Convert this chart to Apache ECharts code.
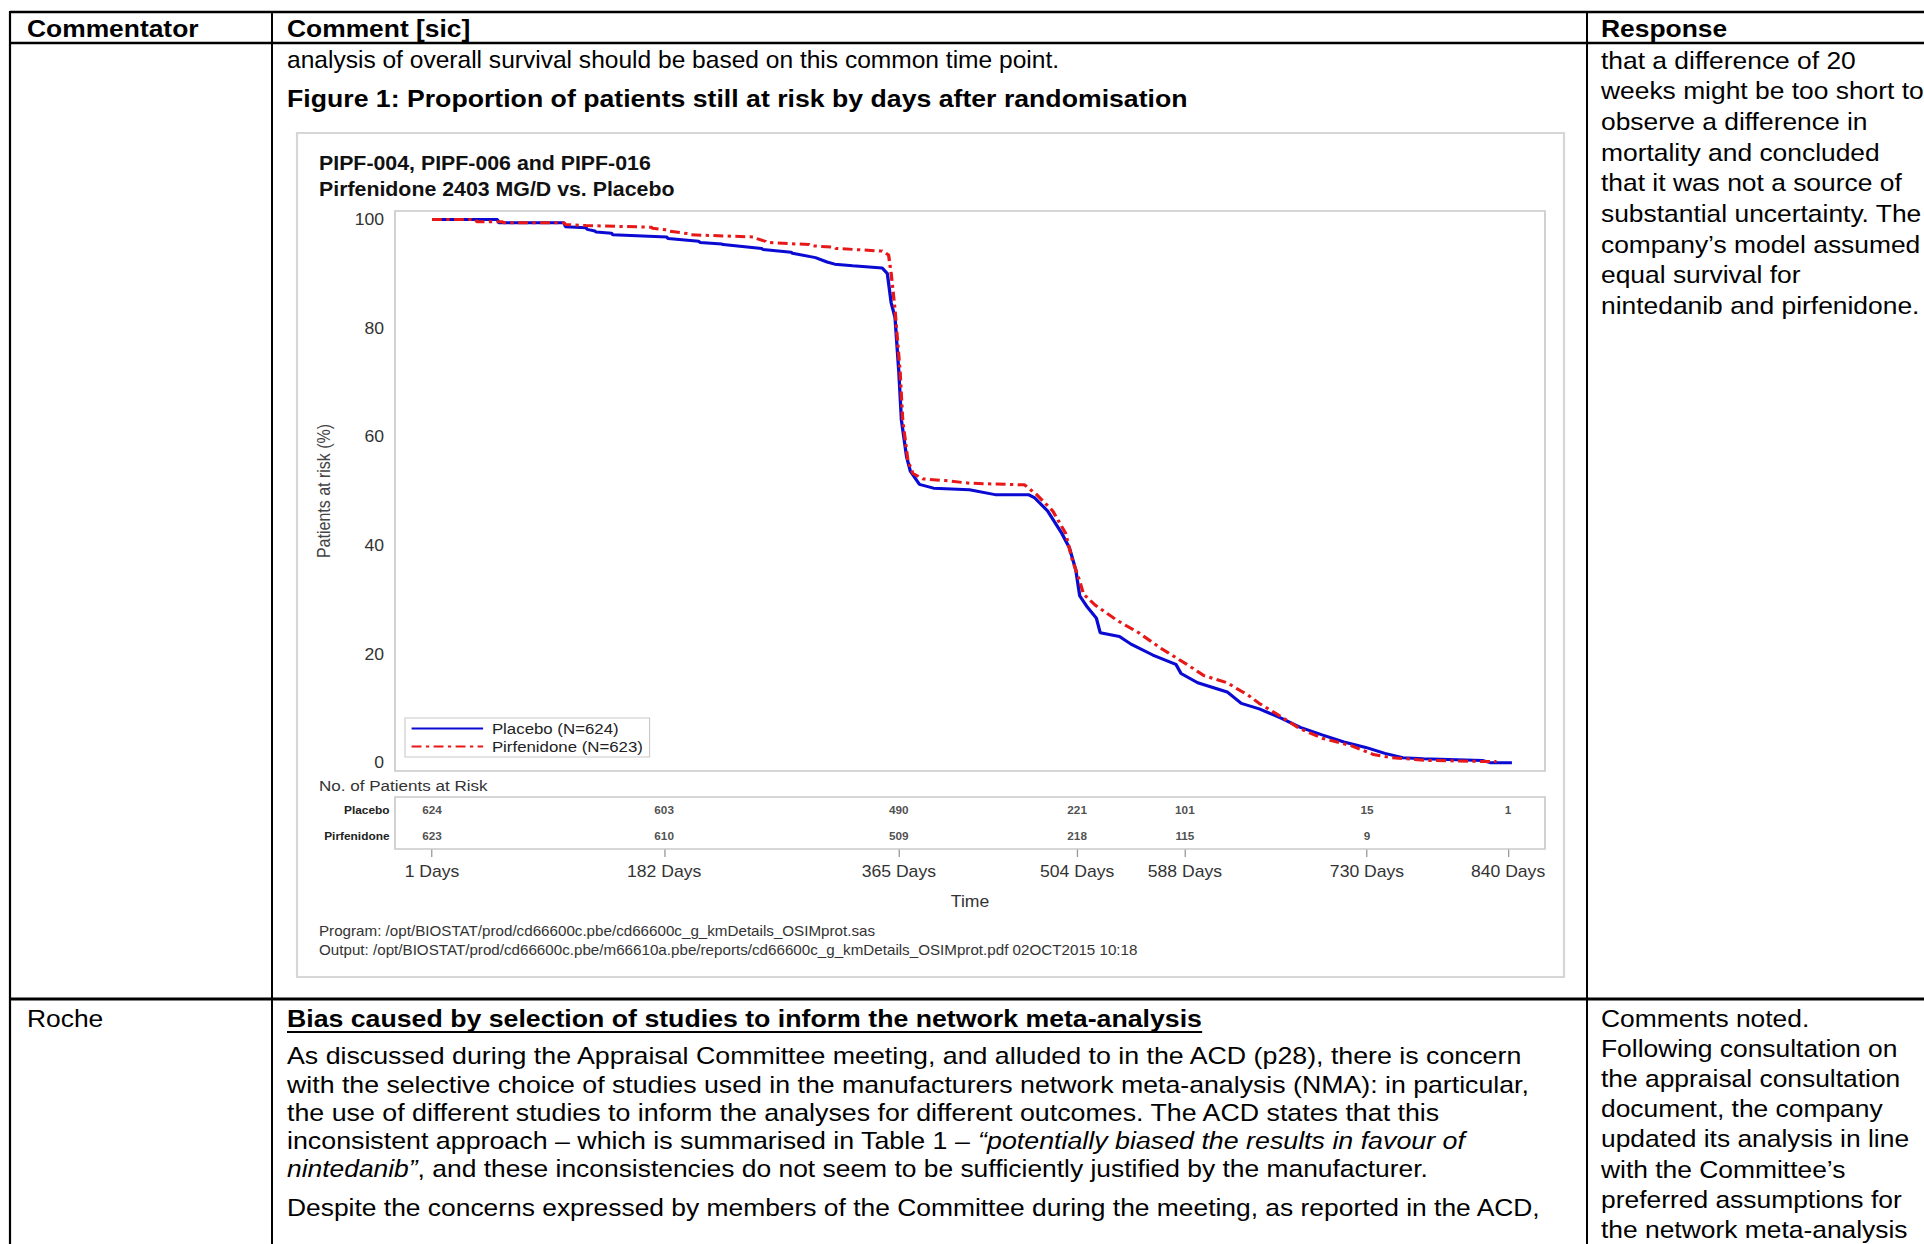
<!DOCTYPE html>
<html>
<head>
<meta charset="utf-8">
<script src="https://cdn.jsdelivr.net/npm/echarts@6/dist/echarts.min.js"></script>
<style>
html,body{margin:0;padding:0;background:#fff;overflow:hidden;width:1924px;height:1244px;}
#c{width:1750px;height:1244px;transform:scaleX(1.1);transform-origin:0 0;}
</style>
</head>
<body>
<div id="c"></div>
<script>
// ---------------- data ----------------
const tickDays = [1, 182, 365, 504, 588, 730, 840];
const riskRows = ['Pirfenidone', 'Placebo'];
const riskPlacebo = [624, 603, 490, 221, 101, 15, 1];
const riskPirf = [623, 610, 509, 218, 115, 9, null];
const yTicks = [0, 20, 40, 60, 80, 100];

const placeboDays = [1,52,53,104,105,121,122,128,129,141,142,184,185,209,210,227,228,258,259,281,282,300,309,315,329,352,356,359,362,365,367,371,374,381,392,420,440,466,471,481,492,498,503,506,512,519,522,537,546,563,581,585,598,621,632,646,663,678,695,712,729,744,758,774,820,826,843];
const placeboPct = [100,100,99.4,99.4,98.7,98.5,98.2,97.9,97.7,97.5,97.2,96.8,96.5,96.0,95.8,95.5,95.4,94.7,94.5,94.0,93.8,93.0,92.2,91.8,91.5,91.1,90.1,84.7,82.0,71.9,63.1,56.4,53.7,51.3,50.6,50.3,49.4,49.4,48.8,46.4,42.3,39.6,35.5,30.8,28.7,26.7,24.0,23.3,21.9,19.9,18.2,16.5,14.8,13.1,11.0,10.0,8.3,6.6,5.2,3.9,2.9,1.8,1.0,0.8,0.5,0.1,0.1];

const pirfDays = [1,35,36,56,57,104,105,121,172,173,184,185,201,202,252,253,261,262,295,296,315,316,352,357,359,362,366,368,372,376,384,401,420,463,472,485,495,500,506,509,518,535,552,569,592,603,621,638,646,658,678,695,718,735,749,778,826,831];
const pirfPct = [100,100,99.6,99.6,99.4,99.4,99.1,98.9,98.6,98.4,98.1,97.9,97.4,97.2,96.8,96.6,96.0,95.8,95.4,95.2,94.9,94.7,94.2,93.5,90.1,83.4,71.9,63.1,55.7,53.3,52.3,52.0,51.5,51.2,49.5,46.4,42.3,37.6,33.5,31.1,29.1,26.3,24.0,21.2,17.8,16.1,14.8,12.4,11.0,9.3,6.3,4.6,3.2,1.6,1.0,0.5,0.3,0.3];

const seriesNames = ['Placebo (N=624)', 'Pirfenidone (N=623)'];

const docHeader = ['Commentator', 'Comment [sic]', 'Response'];
const row1Comment = 'analysis of overall survival should be based on this common time point.';
const row1Figure = 'Figure 1: Proportion of patients still at risk by days after randomisation';
const row1Response = ['that a difference of 20', 'weeks might be too short to', 'observe a difference in', 'mortality and concluded', 'that it was not a source of', 'substantial uncertainty. The', 'company\u2019s model assumed', 'equal survival for', 'nintedanib and pirfenidone.'];
const chartTitle = ['PIPF-004, PIPF-006 and PIPF-016', 'Pirfenidone 2403 MG/D vs. Placebo'];
const footer = ['Program: /opt/BIOSTAT/prod/cd66600c.pbe/cd66600c_g_kmDetails_OSIMprot.sas', 'Output: /opt/BIOSTAT/prod/cd66600c.pbe/m66610a.pbe/reports/cd66600c_g_kmDetails_OSIMprot.pdf 02OCT2015 10:18'];
const row2Commentator = 'Roche';
const row2Heading = 'Bias caused by selection of studies to inform the network meta-analysis';
const row2Comment = [
  'As discussed during the Appraisal Committee meeting, and alluded to in the ACD (p28), there is concern',
  'with the selective choice of studies used in the manufacturers network meta-analysis (NMA): in particular,',
  'the use of different studies to inform the analyses for different outcomes. The ACD states that this',
  'inconsistent approach \u2013 which is summarised in Table 1 \u2013 {i|\u201cpotentially biased the results in favour of}',
  '{i|nintedanib\u201d}, and these inconsistencies do not seem to be sufficiently justified by the manufacturer.'
];
const row2Despite = 'Despite the concerns expressed by members of the Committee during the meeting, as reported in the ACD,';
const row2Response = ['Comments noted.', 'Following consultation on', 'the appraisal consultation', 'document, the company', 'updated its analysis in line', 'with the Committee\u2019s', 'preferred assumptions for', 'the network meta-analysis'];

// ---------------- layout helpers ----------------
const S = 1.1;                       // horizontal stretch of the page
const FONT = '"Liberation Sans", Arial, sans-serif';
const DOC = 24;
function T(x, y, text, o) {
  o = o || {};
  const st = {
    text: text, fontFamily: FONT, fontSize: o.size || DOC, fontWeight: o.bold ? 'bold' : 'normal',
    fill: o.color || '#000', align: 'left', verticalAlign: 'middle', textAlign: 'left', textVerticalAlign: 'middle'
  };
  if (o.rich) st.rich = o.rich;
  const el = { type: 'text', x: x / S, y: y, z: 10, style: st };
  if (o.sx) el.scaleX = o.sx;
  return el;
}
function HL(y, w, x1, x2) {
  return { type: 'line', z: 5, shape: { x1: (x1 || 10) / S, y1: y, x2: (x2 || 1924) / S, y2: y }, style: { stroke: '#000', lineWidth: w } };
}
function VL(x, w) {
  return { type: 'line', z: 5, shape: { x1: x / S, y1: 11, x2: x / S, y2: 1244 }, style: { stroke: '#000', lineWidth: w } };
}
function measure(text, font) {
  const ctx = document.createElement('canvas').getContext('2d');
  ctx.font = font;
  return ctx.measureText(text).width;
}

const graphics = [];
graphics.push(HL(12, 2.5), HL(43, 2.5), HL(999, 3), VL(10, 2), VL(272, 1.8), VL(1587, 1.8));
graphics.push(T(27, 28, docHeader[0], { bold: true }), T(287, 28, docHeader[1], { bold: true }), T(1601, 28, docHeader[2], { bold: true }));
graphics.push(T(287, 60, row1Comment, { sx: 0.93 }));
graphics.push(T(287, 98, row1Figure, { bold: true, sx: 1.01 }));
row1Response.forEach((s, i) => graphics.push(T(1601, 60 + 30.7 * i, s)));
// chart frame
graphics.push({ type: 'rect', z: -1, shape: { x: 297 / S, y: 133, width: (1564 - 297) / S, height: 977 - 133 },
  style: { fill: '#fff', stroke: '#d6d6d6', lineWidth: 2 } });
graphics.push(T(319, 163, chartTitle[0], { bold: true, size: 19.4, color: '#111' }));
graphics.push(T(319, 189, chartTitle[1], { bold: true, size: 19.4, color: '#111' }));
graphics.push(T(319, 785, 'No. of Patients at Risk', { size: 15.5, color: '#333' }));
graphics.push(T(319, 931, footer[0], { size: 13.8, color: '#333' }));
graphics.push(T(319, 950, footer[1], { size: 13.8, color: '#333' }));
// Roche row
graphics.push(T(27, 1018, row2Commentator));
const headSx = 1.011;
graphics.push(T(287, 1018, row2Heading, { bold: true, sx: headSx }));
const hw = measure(row2Heading, 'bold ' + DOC + 'px ' + FONT) * headSx;
graphics.push({ type: 'line', z: 10, shape: { x1: 287 / S, y1: 1032, x2: 287 / S + hw, y2: 1032 }, style: { stroke: '#000', lineWidth: 2 } });
const italic = { i: { fontStyle: 'italic', fontFamily: FONT, fontSize: DOC, fill: '#000' } };
const commentSx = [1.014, 1.012, 1.015, 1.015, 1.0];
row2Comment.forEach((s, i) => graphics.push(T(287, 1056 + 28.2 * i, s, { rich: italic, sx: commentSx[i] })));
graphics.push(T(287, 1207, row2Despite));
row2Response.forEach((s, i) => graphics.push(T(1601, 1018 + 30.2 * i, s)));

// ---------------- chart ----------------
const gridLeft = 395 / S, gridWidth = 1150 / S;
const xMin = -27.85, xMax = 868.8;

const chart = echarts.init(document.getElementById('c'), null, { renderer: 'svg' });
chart.setOption({
  animation: false,
  backgroundColor: '#fff',
  textStyle: { fontFamily: FONT },
  grid: [
    { left: gridLeft, width: gridWidth, top: 211, height: 560, show: true, borderColor: '#c9c9c9', borderWidth: 1.5, backgroundColor: '#fff', z: 1 },
    { left: gridLeft, width: gridWidth, top: 797, height: 52, show: true, borderColor: '#c9c9c9', borderWidth: 1.5, backgroundColor: '#fff', z: 1 }
  ],
  xAxis: [
    { type: 'value', gridIndex: 0, min: xMin, max: xMax, axisLine: { show: false }, axisTick: { show: false }, axisLabel: { show: false }, splitLine: { show: false } },
    { type: 'value', gridIndex: 1, min: xMin, max: xMax, position: 'bottom',
      axisLine: { show: false },
      axisTick: { show: true, customValues: tickDays, length: 8, lineStyle: { color: '#9a9a9a', width: 1.2 } },
      axisLabel: { show: true, customValues: tickDays, formatter: v => v + ' Days', fontSize: 16, color: '#333', margin: 15, fontFamily: FONT },
      splitLine: { show: false },
      name: 'Time', nameLocation: 'middle', nameGap: 45, nameTextStyle: { fontSize: 16, color: '#333', fontFamily: FONT } }
  ],
  yAxis: [
    { type: 'value', gridIndex: 0, min: -1.435, max: 101.58,
      axisLine: { show: false },
      axisTick: { show: true, customValues: yTicks, length: 5, lineStyle: { color: '#9a9a9a', width: 1.2 } },
      axisLabel: { show: true, customValues: yTicks, fontSize: 16, color: '#333', margin: 10, fontFamily: FONT },
      splitLine: { show: false },
      name: 'Patients at risk (%)', nameLocation: 'middle', nameRotate: 90, nameGap: 56,
      nameTextStyle: { fontSize: 16, color: '#444', fontFamily: FONT } },
    { type: 'category', gridIndex: 1, data: riskRows,
      axisLine: { show: false }, axisTick: { show: false }, splitLine: { show: false },
      axisLabel: { fontSize: 10.8, fontWeight: 'bold', color: '#222', margin: 5, fontFamily: FONT } }
  ],
  legend: {
    data: seriesNames, orient: 'vertical', left: 405 / S, top: 718,
    itemWidth: 65, itemHeight: 14, itemGap: 3, padding: [3, 6, 3, 5],
    borderColor: '#c9c9c9', borderWidth: 1, backgroundColor: '#fff',
    itemStyle: { opacity: 0 },
    textStyle: { fontSize: 15.3, color: '#222', fontFamily: FONT, padding: [0, 0, 0, 3] }
  },
  graphic: { elements: graphics },
  series: [
    { name: seriesNames[0], type: 'line', xAxisIndex: 0, yAxisIndex: 0, symbol: 'none', clip: false, z: 3,
      data: placeboDays.map((d, i) => [d, placeboPct[i]]),
      lineStyle: { color: '#0a0ad2', width: 3 }, itemStyle: { color: '#0a0ad2' } },
    { name: seriesNames[1], type: 'line', xAxisIndex: 0, yAxisIndex: 0, symbol: 'none', clip: false, z: 4,
      data: pirfDays.map((d, i) => [d, pirfPct[i]]),
      lineStyle: { color: '#e81818', width: 3, type: [9, 4, 3, 4] }, itemStyle: { color: '#e81818' } },
    { name: 'riskPlacebo', type: 'scatter', xAxisIndex: 1, yAxisIndex: 1, symbolSize: 0, silent: true,
      data: tickDays.map((d, i) => [d, 'Placebo', riskPlacebo[i]]).filter(r => r[2] != null),
      label: { show: true, position: 'inside', formatter: p => p.value[2], fontSize: 10.7, fontWeight: 'bold', color: '#222', fontFamily: FONT } },
    { name: 'riskPirf', type: 'scatter', xAxisIndex: 1, yAxisIndex: 1, symbolSize: 0, silent: true,
      data: tickDays.map((d, i) => [d, 'Pirfenidone', riskPirf[i]]).filter(r => r[2] != null),
      label: { show: true, position: 'inside', formatter: p => p.value[2], fontSize: 10.7, fontWeight: 'bold', color: '#222', fontFamily: FONT } }
  ]
});
</script>
</body>
</html>
